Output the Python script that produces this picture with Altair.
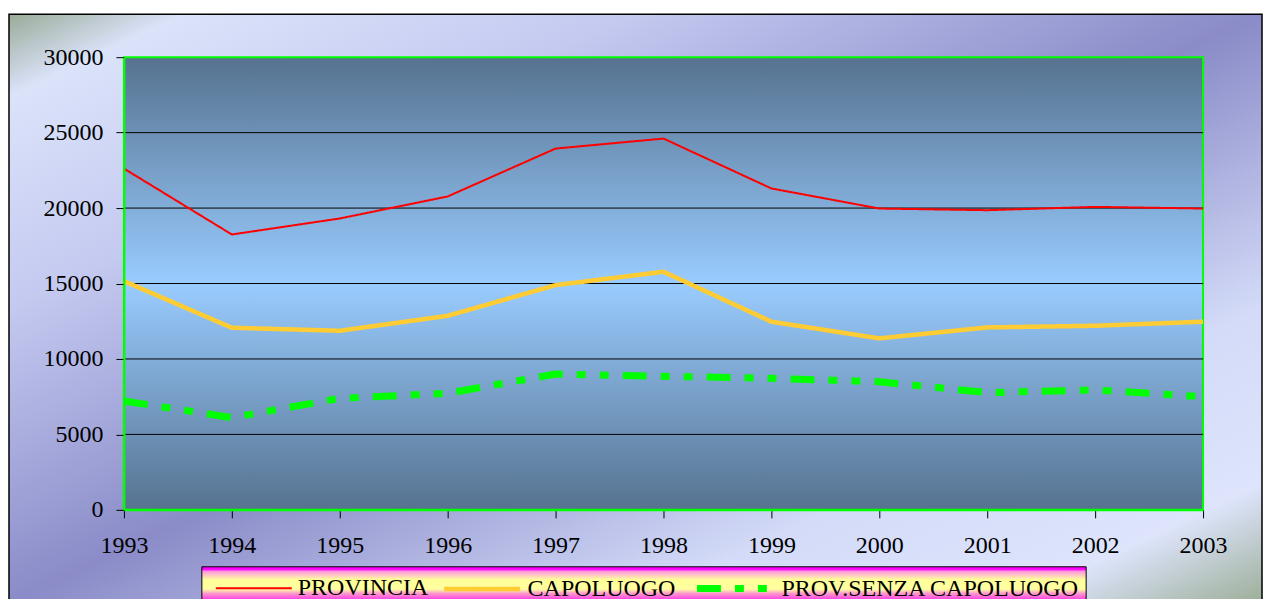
import altair as alt
import pandas as pd

years = list(range(1993, 2004))
provincia = [22620, 18250, 19310, 20770, 23945, 24607, 21300, 19970, 19860, 20080, 19970]
capoluogo = [15160, 12070, 11870, 12860, 14895, 15780, 12470, 11365, 12090, 12200, 12470]
senza_capoluogo = [7215, 6110, 7390, 7725, 9000, 8850, 8720, 8490, 7770, 7945, 7500]
series = ["PROVINCIA", "CAPOLUOGO", "PROV.SENZA CAPOLUOGO"]
series_colors = ["#ff0000", "#ffcc33", "#00ff00"]
y_ticks = [0, 5000, 10000, 15000, 20000, 25000, 30000]
grid_values = [5000, 10000, 15000, 20000, 25000]

W, H = 1080, 453
FONT = "Liberation Serif"

rows = []
for name, vals in zip(series, [provincia, capoluogo, senza_capoluogo]):
    for yr, v in zip(years, vals):
        rows.append({"year": yr, "value": v, "serie": name})
df = pd.DataFrame(rows)
one = pd.DataFrame({"a": [0]})
grid_df = pd.DataFrame({"value": grid_values})

axis_common = dict(
    title=None, grid=False, zindex=1,
    domainColor="#00ff00", domainWidth=2,
    tickColor="black", tickSize=8, tickWidth=1,
    labelFont=FONT, labelFontSize=24, labelColor="black",
)

y_enc = alt.Y(
    "value:Q",
    scale=alt.Scale(domain=[0, 30000], nice=False),
    axis=alt.Axis(values=y_ticks, format="d", labelPadding=13, **axis_common),
)

outer_bg = alt.Chart(one).mark_rect(
    fill=alt.Gradient(
        gradient="linear", x1=0, y1=0, x2=1, y2=1,
        stops=[
            alt.GradientStop(offset=0, color="#9aab98"),
            alt.GradientStop(offset=0.07, color="#dbe3fa"),
            alt.GradientStop(offset=0.25, color="#c4c9f0"),
            alt.GradientStop(offset=0.5, color="#8a8bc8"),
            alt.GradientStop(offset=0.75, color="#d3dbf8"),
            alt.GradientStop(offset=0.9, color="#dde4fb"),
            alt.GradientStop(offset=1, color="#9cae98"),
        ],
    ),
    stroke="black", strokeWidth=1.5,
).encode(x=alt.value(-115), x2=alt.value(1139), y=alt.value(-43), y2=alt.value(546))

plot_bg = alt.Chart(one).mark_rect(
    fill=alt.Gradient(
        gradient="linear", x1=0, y1=0, x2=0, y2=1,
        stops=[
            alt.GradientStop(offset=0, color="#56728f"),
            alt.GradientStop(offset=0.5, color="#99ccff"),
            alt.GradientStop(offset=1, color="#56728f"),
        ],
    ),
    stroke="#00ff00", strokeWidth=2,
).encode(x=alt.value(0), x2=alt.value(W), y=alt.value(0), y2=alt.value(H))

legend_bg = alt.Chart(one).mark_rect(
    fill=alt.Gradient(
        gradient="linear", x1=0, y1=0, x2=0, y2=1,
        stops=[
            alt.GradientStop(offset=0, color="#ff00ff"),
            alt.GradientStop(offset=0.07, color="#ff00ff"),
            alt.GradientStop(offset=0.13, color="#ff99dd"),
            alt.GradientStop(offset=0.25, color="#ffd0c0"),
            alt.GradientStop(offset=0.36, color="#ffff99"),
            alt.GradientStop(offset=0.62, color="#ffffa0"),
            alt.GradientStop(offset=0.74, color="#ff99cc"),
            alt.GradientStop(offset=0.87, color="#ff55e0"),
            alt.GradientStop(offset=1, color="#ff00ff"),
        ],
    ),
    stroke="black", strokeWidth=1,
).encode(x=alt.value(78), x2=alt.value(963), y=alt.value(510), y2=alt.value(546))

grid = alt.Chart(grid_df).mark_rule(color="black", strokeWidth=1).encode(
    y=y_enc, x=alt.value(0), x2=alt.value(W)
)

lines = alt.Chart(df).mark_line(strokeCap="butt", strokeJoin="round").encode(
    x=alt.X(
        "year:Q",
        scale=alt.Scale(domain=[1993, 2003], nice=False),
        axis=alt.Axis(values=years, format="d", labelPadding=16,
                      labelFlush=False, labelOverlap=False, **axis_common),
    ),
    y=y_enc,
    color=alt.Color("serie:N", title=None,
                    scale=alt.Scale(domain=series, range=series_colors)),
    strokeDash=alt.StrokeDash("serie:N", title=None,
                              scale=alt.Scale(domain=series,
                                              range=[[1, 0], [1, 0], [24, 14, 9, 14, 9, 14]])),
    strokeWidth=alt.StrokeWidth("serie:N", title=None,
                                scale=alt.Scale(domain=series, range=[2, 7, 5])),
)

chart = alt.layer(outer_bg, plot_bg, legend_bg, grid, lines).properties(
    width=W, height=H,
    padding={"left": 0, "top": 5, "right": 0, "bottom": 0},
    background="white",
).configure_view(
    stroke="transparent"
).configure_legend(
    orient="none", legendX=91, legendY=490,
    direction="horizontal", symbolType="stroke", symbolSize=5776,
    labelFont=FONT, labelFontSize=24, labelColor="black",
    labelOffset=5, columnPadding=6, padding=0, labelLimit=0,
)

chart.save("out.html", embed_options={"renderer": "svg", "actions": False})
